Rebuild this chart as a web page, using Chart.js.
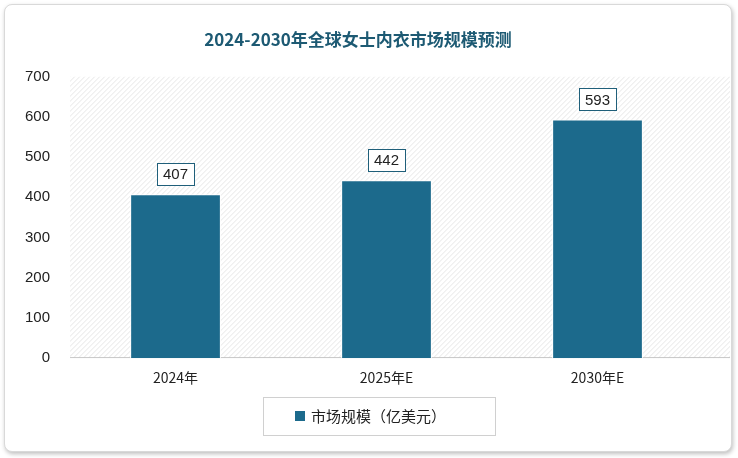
<!DOCTYPE html>
<html><head><meta charset="utf-8">
<script src="https://cdn.jsdelivr.net/npm/chart.js@4"></script>
<style>
html,body{margin:0;padding:0;background:#fff;}
#wrap{position:absolute;left:4px;top:4px;width:726px;height:446px;border:1px solid #d9d9d9;border-radius:8px;box-shadow:1px 2px 4px rgba(0,0,0,0.25);background:#fff;}
canvas{display:block;}
</style></head><body>
<div id="wrap"><canvas id="c" width="726" height="446"></canvas></div>
<script>
const categories = ["2024年", "2025年E", "2030年E"];
const values = [407, 442, 593];
const seriesName = "市场规模（亿美元）";
const titleText = "2024-2030年全球女士内衣市场规模预测";

const hatch = {
  id: 'hatch',
  beforeDraw(chart) {
    const {ctx, chartArea: a} = chart;
    const right = a.right + 27;
    ctx.save();
    ctx.beginPath(); ctx.rect(a.left, a.top, right - a.left, a.bottom - a.top); ctx.clip();
    ctx.strokeStyle = '#e6e6e6'; ctx.lineWidth = 1;
    for (let x = a.left - (a.bottom - a.top); x < right; x += 5) {
      ctx.beginPath(); ctx.moveTo(x, a.bottom); ctx.lineTo(x + (a.bottom - a.top), a.top); ctx.stroke();
    }
    ctx.strokeStyle = '#bfbfbf';
    ctx.beginPath(); ctx.moveTo(a.left, a.bottom - 0.5); ctx.lineTo(right, a.bottom - 0.5); ctx.stroke();
    ctx.restore();
  }
};
const labels = {
  id: 'labels',
  afterDatasetsDraw(chart) {
    const {ctx} = chart;
    const meta = chart.getDatasetMeta(0);
    ctx.save();
    ctx.font = '15px "Liberation Sans", Arial, sans-serif';
    ctx.textAlign = 'center'; ctx.textBaseline = 'middle';
    meta.data.forEach((b, i) => {
      const t = String(values[i]);
      const w = ctx.measureText(t).width + 12, h = 22;
      const cy = b.y - 20;
      ctx.fillStyle = '#fff'; ctx.fillRect(b.x - w / 2, cy - h / 2, w, h);
      ctx.strokeStyle = '#1f5f7a'; ctx.lineWidth = 1;
      ctx.strokeRect(Math.round(b.x - w / 2) + 0.5, Math.round(cy - h / 2) + 0.5, Math.round(w), h);
      ctx.fillStyle = '#222'; ctx.fillText(t, b.x, cy + 1);
    });
    ctx.restore();
  }
};
const legendBox = {
  id: 'legendBox',
  afterDraw(chart) {
    const {ctx} = chart;
    ctx.save();
    ctx.strokeStyle = '#d0d0d0'; ctx.lineWidth = 1;
    ctx.strokeRect(258.5, 392.5, 232, 38);
    ctx.fillStyle = '#1c6a8c'; ctx.fillRect(290, 406, 10, 10);
    ctx.fillStyle = '#222'; ctx.font = '15px "Noto Sans CJK SC", sans-serif';
    ctx.textBaseline = 'middle'; ctx.fillText(seriesName, 306, 411);
    ctx.restore();
  }
};

new Chart(document.getElementById('c'), {
  type: 'bar',
  data: { labels: categories, datasets: [{ label: seriesName, data: values,
    backgroundColor: '#1c6a8c', borderColor: '#ffffff', borderWidth: {left:1,right:1,top:1,bottom:0}, barPercentage: 0.43, categoryPercentage: 1 }] },
  options: {
    responsive: false, animation: false,
    layout: { padding: { left: 8, right: 28, top: 0, bottom: 62 } },
    plugins: {
      legend: { display: false },
      tooltip: { enabled: false },
      title: { display: true, text: titleText, color: '#1d5a73',
        font: { size: 17, weight: 'bold', family: '"Noto Sans CJK SC", serif' }, padding: { top: 24, bottom: 27 } }
    },
    scales: {
      x: { grid: { display: false }, border: { display: false },
        ticks: { color: '#222', font: { size: 14, family: '"Noto Sans CJK SC", sans-serif' } } },
      y: { min: 0, max: 700, grid: { display: false }, border: { display: false },
        ticks: { stepSize: 100, color: '#222', padding: 12, font: { size: 15, family: '"Liberation Sans", Arial, sans-serif' } } }
    }
  },
  plugins: [hatch, labels, legendBox]
});
</script>
</body></html>
